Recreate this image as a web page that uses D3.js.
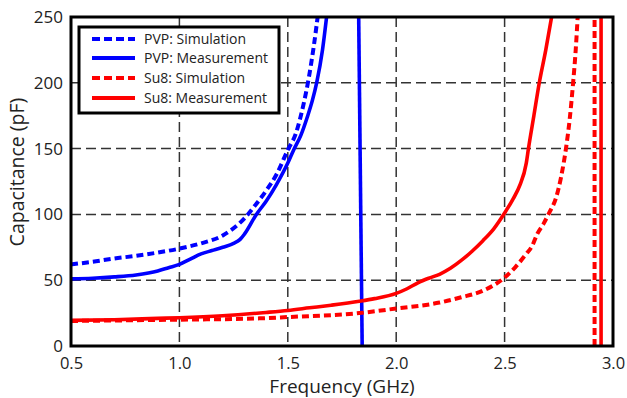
<!DOCTYPE html>
<html>
<head>
<meta charset="utf-8">
<script src="https://cdn.jsdelivr.net/npm/d3@7"></script>
<style>
  html, body { margin: 0; padding: 0; background: #fff; }
  svg { display: block; }
  text { font-family: "Open Sans", "Noto Sans", sans-serif; fill: #222; }
</style>
</head>
<body>
<svg id="chart" width="627" height="398"></svg>
<script>
// ---- data ----
const xTicks = [0.5, 1.0, 1.5, 2.0, 2.5, 3.0];
const yTicks = [0, 50, 100, 150, 200, 250];

const pvpSimX = [0.5, 0.6, 0.7, 0.8, 0.9, 1.0, 1.1, 1.2, 1.3, 1.35, 1.4, 1.45, 1.5, 1.536, 1.573, 1.596, 1.62, 1.64];
const pvpSimY = [62, 64, 66.5, 68.5, 71, 74, 78, 84, 97, 107, 118, 131, 149, 161, 184, 203, 228, 253];

const pvpMeasX = [0.5, 0.6, 0.7, 0.8, 0.9, 0.95, 1.0, 1.05, 1.1, 1.15, 1.2, 1.25, 1.28, 1.3, 1.355, 1.4, 1.447, 1.5, 1.527, 1.56, 1.59, 1.614, 1.633, 1.66, 1.681];
const pvpMeasY = [51, 51.5, 52.5, 54, 57, 59.5, 62, 66, 70, 72.5, 75, 78, 81, 85, 100, 110, 122.5, 139, 149, 160, 174, 187, 200, 225, 253];
// second branch of the PVP measurement (after resonance)
const pvpMeas2X = [1.843, 1.827];
const pvpMeas2Y = [0, 250];

const su8SimX = [0.5, 0.75, 1.0, 1.37, 1.5, 1.83, 2.0, 2.2, 2.3, 2.4, 2.5, 2.55, 2.6, 2.627, 2.65, 2.68, 2.705, 2.738, 2.76, 2.783, 2.8, 2.816, 2.828, 2.838];
const su8SimY = [19, 19.5, 20, 21, 22, 25, 28.5, 33, 37, 42, 52, 60, 70, 76, 85, 93, 101, 113, 128, 150, 172, 200, 225, 253];
const su8Sim2X = [2.915, 2.915];
const su8Sim2Y = [0, 250];

const su8MeasX = [0.5, 0.7, 0.9, 1.0, 1.2, 1.4, 1.5, 1.6, 1.7, 1.83, 1.9, 2.0, 2.05, 2.1, 2.15, 2.2, 2.25, 2.3, 2.35, 2.4, 2.45, 2.5, 2.54, 2.57, 2.6, 2.61, 2.635, 2.66, 2.69, 2.72];
const su8MeasY = [19.5, 20, 21, 21.5, 23, 25.5, 27, 29, 31, 34, 36, 40, 43.5, 48, 51.5, 54.5, 59, 65, 72, 80, 89, 101, 112, 122, 139, 150, 175, 200, 225, 253];
const su8Meas2X = [2.945, 2.945];
const su8Meas2Y = [0, 250];

const legendLabels = ["PVP: Simulation", "PVP: Measurement", "Su8: Simulation", "Su8: Measurement"];
const seriesColors = ["#0000ff", "#0000ff", "#ff0000", "#ff0000"];
const seriesDashed = [true, false, true, false];

// ---- layout ----
const svg = d3.select("#chart");
const m = { left: 71, right: 613, top: 17, bottom: 346 };

const x = d3.scaleLinear().domain([0.5, 3.0]).range([m.left, m.right]);
const y = d3.scaleLinear().domain([0, 250]).range([m.bottom, m.top]);

svg.append("defs").append("clipPath").attr("id", "clip")
  .append("rect")
  .attr("x", m.left).attr("y", m.top)
  .attr("width", m.right - m.left).attr("height", m.bottom - m.top);

// grid
const grid = svg.append("g");
grid.selectAll(".vg").data(xTicks.slice(1, -1)).enter().append("line")
  .attr("x1", d => x(d)).attr("x2", d => x(d))
  .attr("y1", m.top).attr("y2", m.bottom)
  .attr("stroke", "#333").attr("stroke-width", 1.5)
  .attr("stroke-dasharray", "10,5");
grid.selectAll(".hg").data(yTicks.slice(1, -1)).enter().append("line")
  .attr("x1", m.left).attr("x2", m.right)
  .attr("y1", d => y(d)).attr("y2", d => y(d))
  .attr("stroke", "#333").attr("stroke-width", 1.5)
  .attr("stroke-dasharray", "10,5");

// series
const zip = (xs, ys) => xs.map((v, i) => [v, ys[i]]);
const line = d3.line().x(d => x(d[0])).y(d => y(d[1])).curve(d3.curveMonotoneX);
const straight = d3.line().x(d => x(d[0])).y(d => y(d[1]));

const series = [
  { pts: zip(pvpSimX, pvpSimY), idx: 0, gen: line },
  { pts: zip(pvpMeasX, pvpMeasY), idx: 1, gen: line },
  { pts: zip(pvpMeas2X, pvpMeas2Y), idx: 1, gen: straight },
  { pts: zip(su8SimX, su8SimY), idx: 2, gen: line },
  { pts: zip(su8Sim2X, su8Sim2Y), idx: 2, gen: straight },
  { pts: zip(su8MeasX, su8MeasY), idx: 3, gen: line },
  { pts: zip(su8Meas2X, su8Meas2Y), idx: 3, gen: straight }
];

const plot = svg.append("g").attr("clip-path", "url(#clip)");
series.forEach(s => {
  plot.append("path")
    .attr("d", s.gen(s.pts))
    .attr("fill", "none")
    .attr("stroke", seriesColors[s.idx])
    .attr("stroke-width", seriesDashed[s.idx] ? 4 : 3.6)
    .attr("stroke-dasharray", seriesDashed[s.idx] ? "7,4" : null);
});

// frame
svg.append("rect")
  .attr("x", m.left).attr("y", m.top)
  .attr("width", m.right - m.left).attr("height", m.bottom - m.top)
  .attr("fill", "none").attr("stroke", "#000").attr("stroke-width", 3);

// axes (labels only)
const xAxis = d3.axisBottom(x).tickValues(xTicks).tickFormat(d3.format(".1f")).tickSize(0).tickPadding(11);
const gx = svg.append("g").attr("transform", `translate(0,${m.bottom})`).call(xAxis);
gx.select(".domain").remove();
gx.selectAll("text").attr("font-size", 16.5).attr("font-family", "Open Sans").attr("fill", "#222");

const yAxis = d3.axisLeft(y).tickValues(yTicks).tickFormat(d3.format("d")).tickSize(0).tickPadding(8);
const gy = svg.append("g").attr("transform", `translate(${m.left},0)`).call(yAxis);
gy.select(".domain").remove();
gy.selectAll("text").attr("font-size", 17).attr("font-family", "Open Sans").attr("fill", "#222");

// axis titles
svg.append("text")
  .attr("x", 342).attr("y", 393)
  .attr("text-anchor", "middle").attr("font-size", 19)
  .text("Frequency (GHz)");
svg.append("text")
  .attr("transform", `translate(24,172) rotate(-90)`)
  .attr("text-anchor", "middle").attr("font-size", 19.5)
  .text("Capacitance (pF)");

// legend
const lg = svg.append("g");
lg.append("rect")
  .attr("x", 79).attr("y", 27).attr("width", 200).attr("height", 86)
  .attr("fill", "#fff").attr("stroke", "#000").attr("stroke-width", 3);
const rowY = [39, 58, 78, 98];
legendLabels.forEach((lab, i) => {
  lg.append("line")
    .attr("x1", 92).attr("x2", 135)
    .attr("y1", rowY[i]).attr("y2", rowY[i])
    .attr("stroke", seriesColors[i])
    .attr("stroke-width", 4)
    .attr("stroke-dasharray", seriesDashed[i] ? "8,4" : null);
  lg.append("text")
    .attr("x", 144).attr("y", rowY[i])
    .attr("dy", "0.35em")
    .attr("font-size", 14)
    .text(lab);
});
</script>
</body>
</html>
